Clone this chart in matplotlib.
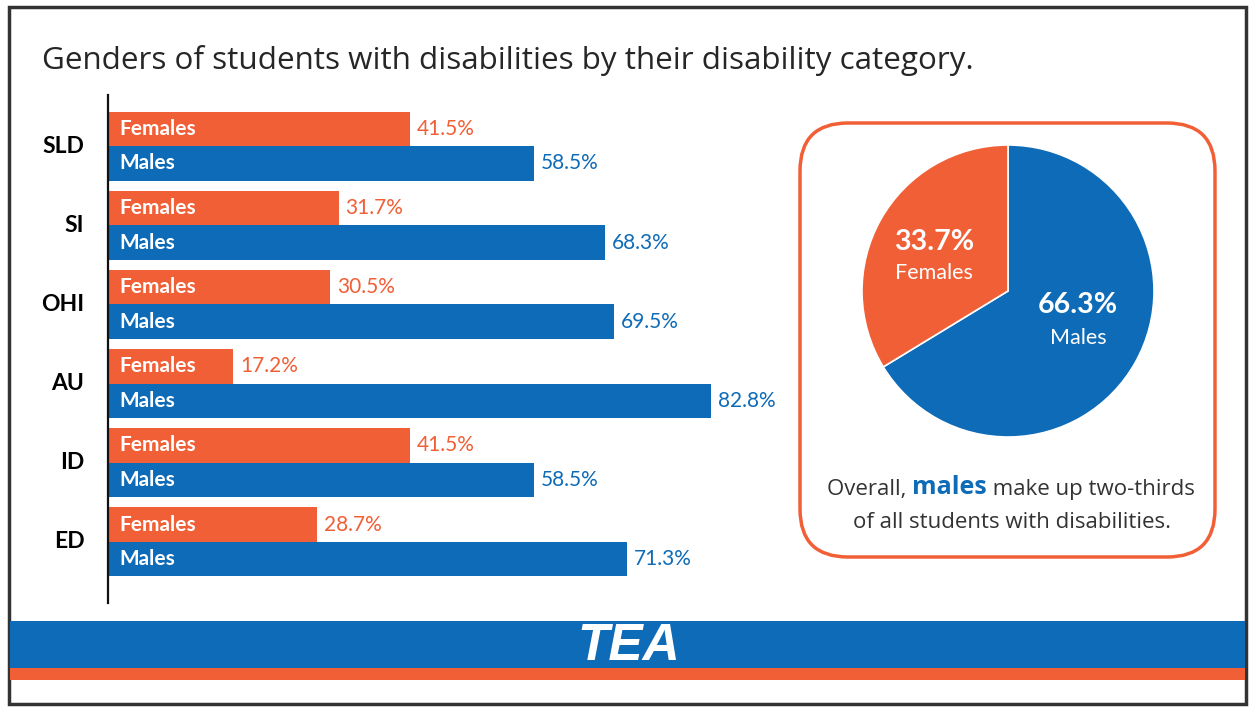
import numpy as np
import matplotlib.pyplot as plt
from matplotlib.patches import Rectangle, FancyBboxPatch

# Disability categories and percent split by gender
categories = ["SLD", "SI", "OHI", "AU", "ID", "ED"]
females = [41.5, 31.7, 30.5, 17.2, 41.5, 28.7]
males = [58.5, 68.3, 69.5, 82.8, 58.5, 71.3]

# Overall split for the pie
pie_labels = ["Males", "Females"]
pie_values = [66.3, 33.7]

ORANGE = "#F15F36"
BLUE = "#0E6BB7"
DARK = "#262626"

W, H = 1249, 709
fig = plt.figure(figsize=(W / 100, H / 100), dpi=100)


def rect(left, top, width, height):
    return [left / W, 1 - (top + height) / H, width / W, height / H]


# background layer in pixel coordinates
bg = fig.add_axes([0, 0, 1, 1])
bg.set_xlim(0, W)
bg.set_ylim(H, 0)
bg.axis("off")
bg.set_zorder(0)

bg.add_patch(Rectangle((9, 7), 1237, 697, fill=False, edgecolor="#333333", lw=2.5))
bg.add_patch(Rectangle((10, 621), 1235, 47, facecolor=BLUE, edgecolor="none"))
bg.add_patch(Rectangle((10, 668), 1235, 12, facecolor=ORANGE, edgecolor="none"))
bg.text(629, 647, "TEA", color="white", fontsize=37, fontweight="bold", style="italic",
        family="Liberation Sans", ha="center", va="center")

bg.text(42, 60, "Genders of students with disabilities by their disability category.",
        fontsize=22.6, color=DARK, family="Open Sans", va="center", ha="left")

bg.add_patch(FancyBboxPatch((800, 123), 415, 434, boxstyle="round,pad=0,rounding_size=48",
                            facecolor="white", edgecolor=ORANGE, lw=2.5))

# caption under the pie, "males" highlighted
t1 = bg.text(827, 490, "Overall, ", fontsize=16, color="#333333", family="Open Sans",
             ha="left", va="center")
t2 = bg.annotate("males", xy=(1, 0), xycoords=t1, va="bottom", ha="left",
                 fontsize=18, color=BLUE, fontweight="bold", family="Open Sans")
bg.annotate(" make up two-thirds", xy=(1, 0), xycoords=t2, va="bottom", ha="left",
            fontsize=16, color="#333333", family="Open Sans")
bg.text(1012, 522, "of all students with disabilities.", fontsize=16, color="#333333",
        family="Open Sans", ha="center", va="center")

# horizontal bars
ax = fig.add_axes(rect(108, 95, 655, 508))
ax.set_facecolor("none")
ax.set_zorder(2)
pitch = 79.0
y = np.arange(len(categories))
bh = 34.5 / pitch
ax.barh(y - bh / 2, females, height=bh, color=ORANGE, edgecolor="none")
ax.barh(y + bh / 2, males, height=bh, color=BLUE, edgecolor="none")
ax.set_xlim(0, 90)
ax.set_ylim(len(categories) - 1 + 61 / pitch, -51 / pitch)

lab_kw = dict(textcoords="offset points", va="center", ha="left", fontsize=15, family="Lato")
for i in range(len(categories)):
    ax.annotate("Females", (0, i - bh / 2), xytext=(8.5, 0), color="white",
                fontweight="bold", **lab_kw)
    ax.annotate("Males", (0, i + bh / 2), xytext=(8.5, 0), color="white",
                fontweight="bold", **lab_kw)
    ax.annotate(f"{females[i]:.1f}%", (females[i], i - bh / 2), xytext=(5, 0),
                color=ORANGE, **lab_kw)
    ax.annotate(f"{males[i]:.1f}%", (males[i], i + bh / 2), xytext=(5, 0),
                color=BLUE, **lab_kw)
    ax.annotate(categories[i], (0, i), xytext=(-17, 0), textcoords="offset points",
                ha="right", va="center", fontsize=16.5, fontweight="bold",
                color="black", family="Lato")

for s in ["top", "right", "bottom"]:
    ax.spines[s].set_visible(False)
ax.spines["left"].set_linewidth(1.6)
ax.spines["left"].set_color("#111111")
ax.set_xticks([])
ax.set_yticks([])

# overall pie
pax = fig.add_axes(rect(1008 - 146, 291 - 146, 292, 292))
pax.set_zorder(3)
wedges, _ = pax.pie(pie_values, colors=[BLUE, ORANGE], startangle=90, counterclock=False,
                    radius=1, wedgeprops=dict(edgecolor="white", linewidth=1.2))
pax.set_xlim(-1, 1)
pax.set_ylim(-1, 1)
pax.set_aspect("equal")
pax.axis("off")

# x, y of the percent line, y of the name line
label_pos = {"Males": (0.48, -0.096, -0.32), "Females": (-0.507, 0.336, 0.123)}
for lab, val in zip(pie_labels, pie_values):
    px, py_pct, py_lab = label_pos[lab]
    pax.text(px, py_pct, f"{val:.1f}%", color="white", fontsize=20.5, fontweight="bold",
             family="Lato", ha="center", va="center")
    pax.text(px, py_lab, lab, color="white", fontsize=15.5, family="Lato",
             ha="center", va="center")

fig.savefig("out.png", dpi=100, facecolor="white")
